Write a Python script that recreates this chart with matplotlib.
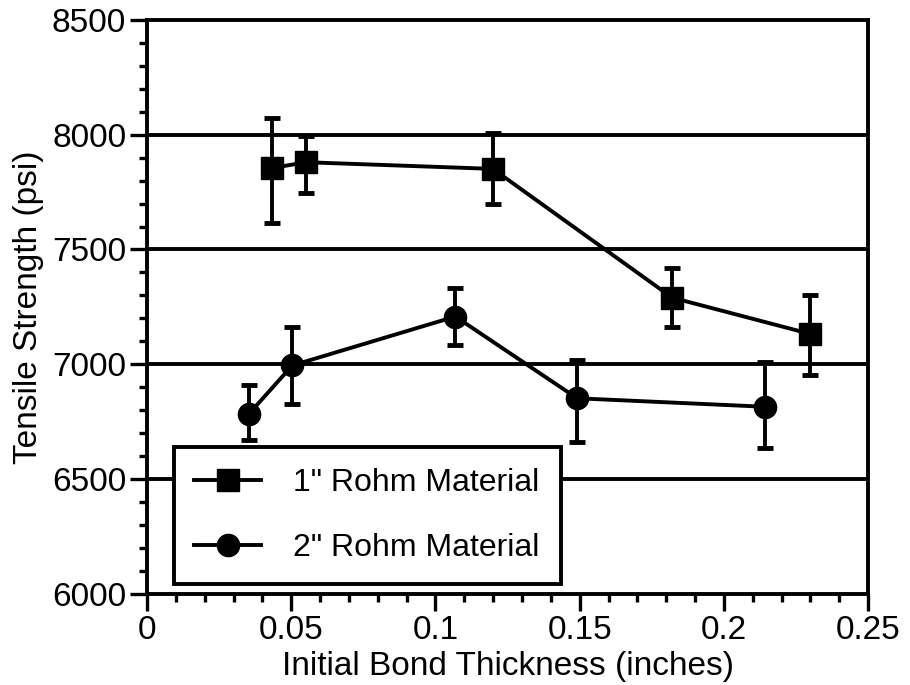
import matplotlib
matplotlib.use("Agg")
import matplotlib.pyplot as plt
from matplotlib.ticker import MultipleLocator
import numpy as np

plt.rcParams["font.family"] = ["Liberation Sans", "DejaVu Sans"]

# 1" Rohm material (squares)
sq_x = [0.0435, 0.0552, 0.1199, 0.1821, 0.2300]
sq_y = [7855, 7880, 7851, 7290, 7132]
sq_top = [8072, 7995, 8008, 7418, 7300]
sq_bot = [7614, 7745, 7697, 7162, 6952]

# 2" Rohm material (circles)
ci_x = [0.0352, 0.0504, 0.1069, 0.1491, 0.2142]
ci_y = [6782, 6995, 7208, 6852, 6815]
ci_top = [6908, 7161, 7333, 7017, 7008]
ci_bot = [6670, 6828, 7082, 6660, 6635]

labels = ['1" Rohm Material', '2" Rohm Material']
grid_levels = [6500, 7000, 7500, 8000]
x_ticks = [0, 0.05, 0.1, 0.15, 0.2, 0.25]
x_ticklabels = ["0", "0.05", "0.1", "0.15", "0.2", "0.25"]

LW = 2.8

fig = plt.figure(figsize=(9.1, 6.85), dpi=100)
ax = fig.add_axes([0.1615, 0.133, 0.7925, 0.838])

for y in grid_levels:
    ax.axhline(y, color="black", lw=LW, zorder=1)

series = [
    (sq_x, sq_y, sq_top, sq_bot, "s", labels[0]),
    (ci_x, ci_y, ci_top, ci_bot, "o", labels[1]),
]
for xs, ys, top, bot, mk, lab in series:
    ys = np.array(ys)
    yerr = [ys - np.array(bot), np.array(top) - ys]
    ax.errorbar(xs, ys, yerr=yerr, fmt="none", ecolor="black",
                elinewidth=2.8, capsize=5.5, capthick=3.5, zorder=3)
    ax.plot(xs, ys, color="black", lw=LW, marker=mk, markersize=16,
            markerfacecolor="black", markeredgecolor="black",
            label=lab, zorder=4)

ax.set_xlim(0, 0.25)
ax.set_ylim(6000, 8500)
ax.set_xticks(x_ticks, x_ticklabels)
ax.xaxis.set_minor_locator(MultipleLocator(0.01))
ax.yaxis.set_major_locator(MultipleLocator(500))
ax.yaxis.set_minor_locator(MultipleLocator(100))
ax.tick_params(which="major", direction="out", length=12, width=2.4,
               labelsize=24, pad=3)
ax.tick_params(which="minor", direction="out", length=6, width=2.4)

for s in ax.spines.values():
    s.set_linewidth(LW)

ax.set_xlabel("Initial Bond Thickness (inches)", fontsize=24, labelpad=4)
ax.set_ylabel("Tensile Strength (psi)", fontsize=24, labelpad=6)

leg = ax.legend(loc="lower left", bbox_to_anchor=(0.037, 0.017),
                borderaxespad=0, fontsize=23, handlelength=2.1,
                handletextpad=1.0, borderpad=0.65, labelspacing=1.1,
                fancybox=False, framealpha=1, edgecolor="black")
leg.get_frame().set_linewidth(LW)
leg.set_zorder(5)

fig.savefig("out.png", dpi=100)
